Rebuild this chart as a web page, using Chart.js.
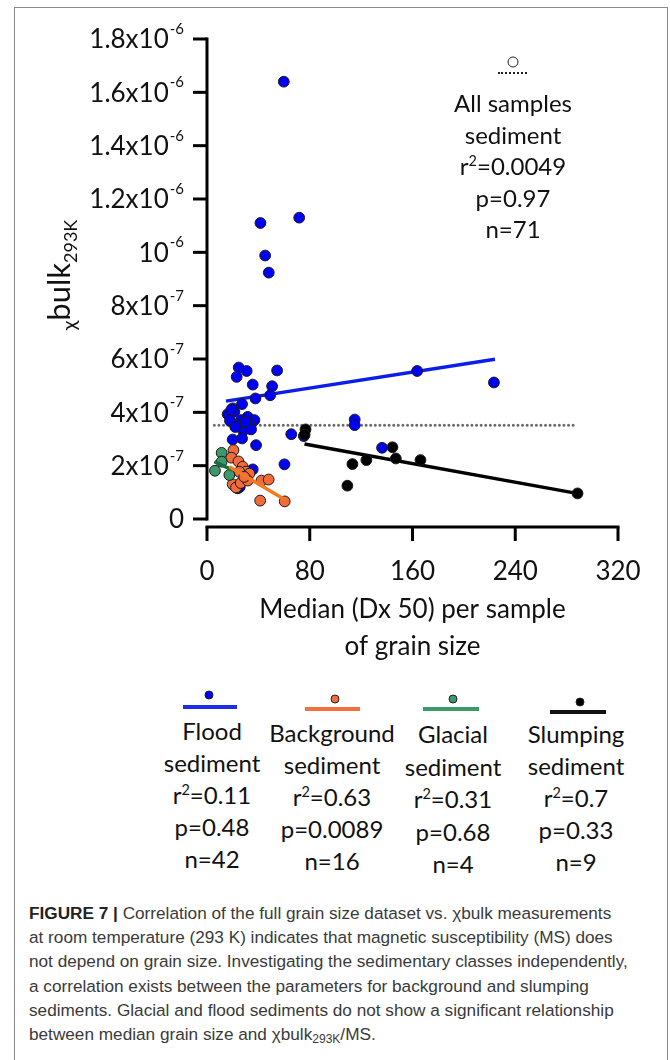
<!DOCTYPE html>
<html>
<head>
<meta charset="utf-8">
<script src="https://cdn.jsdelivr.net/npm/chart.js@4.4.1/dist/chart.umd.min.js"></script>
<style>
    body { margin: 0; background: #fff; width: 670px; height: 1060px; overflow: hidden; position: relative; font-family: Lato, "Open Sans", sans-serif; color: #111; }
    #moldura { position: absolute; left: 14px; top: 7px; width: 654px; height: 1070px; border: 1px solid #8a8a8a; box-sizing: border-box; }
    #grafico { position: absolute; left: 0; top: 0; }
    .leg { position: absolute; text-align: center; font-size: 24px; white-space: nowrap; transform: translateX(-50%); }
    .sup { font-size: 0.6em; position: relative; top: -0.6em; line-height: 0; }
    .ponto { position: absolute; width: 9px; height: 9px; border-radius: 50%; border: 1px solid #222; box-sizing: border-box; transform: translate(-50%, -50%); }
    .traco { position: absolute; height: 4px; transform: translateY(-50%); }
    #pontilhado { position: absolute; left: 498px; top: 72px; width: 29px; border-top: 2px dotted #222; }
    #legenda-fig { position: absolute; left: 29px; top: 901px; font-family: "Liberation Sans", Arial, sans-serif; font-size: 17.2px; line-height: 24.2px; color: #3a3a3a; white-space: nowrap; }
    #legenda-fig b { color: #222; }
    #legenda-fig sub { font-size: 0.7em; vertical-align: -0.25em; line-height: 0; }
</style>
</head>
<body>
<div id="moldura"></div>
<canvas id="grafico" width="670" height="680"></canvas>

<!-- Legenda superior (todas as amostras) -->
<div class="ponto" style="left:513px; top:62px; width:11px; height:11px; background:#fff;"></div>
<div id="pontilhado"></div>
<div class="leg" style="left:513px; top:87px; line-height:31.5px;">All samples<br>sediment<br>r<span class="sup">2</span>=0.0049<br>p=0.97<br>n=71</div>

<!-- Legenda inferior (classes) -->
<div class="ponto" style="left:209px; top:695px; background:#0000f5;"></div>
<div class="traco" style="left:183px; top:707px; width:54px; background:#1b2ee8;"></div>
<div class="leg" style="left:212px; top:715px; line-height:32px;">Flood<br>sediment<br>r<span class="sup">2</span>=0.11<br>p=0.48<br>n=42</div>

<div class="ponto" style="left:335px; top:699px; background:#f26c3b;"></div>
<div class="traco" style="left:305px; top:709px; width:55px; background:#f4703a;"></div>
<div class="leg" style="left:332px; top:717px; line-height:32px;">Background<br>sediment<br>r<span class="sup">2</span>=0.63<br>p=0.0089<br>n=16</div>

<div class="ponto" style="left:453px; top:699px; background:#3a9a6b;"></div>
<div class="traco" style="left:423px; top:709px; width:56px; background:#3a9a6b;"></div>
<div class="leg" style="left:453px; top:718px; line-height:32.5px;">Glacial<br>sediment<br>r<span class="sup">2</span>=0.31<br>p=0.68<br>n=4</div>

<div class="ponto" style="left:580px; top:702px; background:#000;"></div>
<div class="traco" style="left:550px; top:712px; width:56px; background:#111;"></div>
<div class="leg" style="left:576px; top:718px; line-height:32px;">Slumping<br>sediment<br>r<span class="sup">2</span>=0.7<br>p=0.33<br>n=9</div>

<div id="legenda-fig"><b>FIGURE 7 |</b> Correlation of the full grain size dataset vs. χbulk measurements<br>at room temperature (293 K) indicates that magnetic susceptibility (MS) does<br>not depend on grain size. Investigating the sedimentary classes independently,<br>a correlation exists between the parameters for background and slumping<br>sediments. Glacial and flood sediments do not show a significant relationship<br>between median grain size and χbulk<sub>293K</sub>/MS.</div>

<script>
// Valores de y em unidades de 10^-7
const Y_UNIT = 1e-7;

// Flood sediment (azul)
const floodX = [59.8, 41.6, 71.8, 45.3, 48.1, 24.7, 30.9, 23.1, 54.6, 35.6, 50.7, 37.7, 49.2, 27.3, 20.0, 16.1, 21.3, 17.9, 26.5, 31.7, 36.9, 25.2, 33.0, 28.3, 34.3, 20.0, 27.3, 38.2, 65.6, 75.4, 115.0, 115.0, 136.3, 60.3, 35.6, 23.9, 163.6, 223.4, 22.0, 30.0, 19.0, 25.5];
const floodY = [16.4, 11.1, 11.3, 9.88, 9.24, 5.68, 5.55, 5.33, 5.57, 5.04, 4.98, 4.52, 4.64, 4.31, 4.15, 3.93, 4.02, 3.68, 3.71, 3.83, 3.71, 3.52, 3.58, 3.31, 3.36, 2.98, 3.02, 2.77, 3.18, 3.11, 3.73, 3.52, 2.67, 2.05, 1.86, 1.15, 5.55, 5.12, 3.45, 3.65, 4.10, 1.20];

// Background sediment (laranja)
const backgroundX = [20.6, 19.0, 24.5, 27.8, 30.4, 33.0, 25.2, 20.0, 22.6, 26.2, 31.7, 42.4, 48.0, 41.4, 60.5, 29.0];
const backgroundY = [2.58, 2.30, 2.16, 1.96, 1.78, 1.70, 1.77, 1.30, 1.18, 1.35, 1.44, 1.44, 1.48, 0.69, 0.66, 1.58];

// Glacial sediment (verde)
const glacialX = [11.4, 11.4, 6.2, 17.4];
const glacialY = [2.48, 2.15, 1.81, 1.65];

// Slumping sediment (preto)
const slumpingX = [76.7, 76.0, 113.2, 124.1, 109.3, 144.4, 147.0, 166.2, 288.5];
const slumpingY = [3.36, 3.16, 2.06, 2.21, 1.25, 2.69, 2.27, 2.21, 0.96];

// Retas de regressão: [x inicial, x final] e [y inicial, y final]
const floodFitX = [14.8, 224.2];
const floodFitY = [4.42, 5.99];
const backgroundFitX = [17.5, 61.1];
const backgroundFitY = [1.96, 0.71];
const glacialFitX = [5.7, 20.0];
const glacialFitY = [2.15, 1.83];
const slumpingFitX = [75.9, 288.0];
const slumpingFitY = [2.81, 0.96];
const allFitX = [5.7, 285.3];
const allFitY = [3.52, 3.52];

// Rótulos dos eixos
const yTickValues = [0, 2, 4, 6, 8, 10, 12, 14, 16, 18];
const yTickMantissa = ['0', '2x10', '4x10', '6x10', '8x10', '10', '1.2x10', '1.4x10', '1.6x10', '1.8x10'];
const yTickExp = [null, '-7', '-7', '-7', '-7', '-6', '-6', '-6', '-6', '-6'];
const xTickValues = [0, 80, 160, 240, 320];
const xTitleLines = ['Median (Dx 50) per sample', 'of grain size'];

const FONTE = 'Lato, "Open Sans", sans-serif';

function pontos(xs, ys) {
    return xs.map((x, i) => ({ x: x, y: ys[i] * Y_UNIT }));
}

function serieDePontos(xs, ys, cor, ordem) {
    return {
        type: 'scatter',
        data: pontos(xs, ys),
        backgroundColor: cor,
        borderColor: '#1a1a1a',
        pointRadius: 5.4,
        pointBorderWidth: 1,
        order: ordem,
        clip: false
    };
}

function reta(xs, ys, cor, largura, extra) {
    return Object.assign({
        type: 'line',
        data: pontos(xs, ys),
        borderColor: cor,
        borderWidth: largura,
        pointRadius: 0,
        fill: false,
        tension: 0,
        order: 10,
        clip: false
    }, extra || {});
}

// Desenha eixos destacados, rótulos e títulos
const eixosPlugin = {
    id: 'eixos',
    afterDraw(chart) {
        const ctx = chart.ctx;
        const xs = chart.scales.x;
        const ys = chart.scales.y;
        const x0 = xs.getPixelForValue(0);
        const yZero = ys.getPixelForValue(0);
        const yTopo = ys.getPixelForValue(yTickValues[yTickValues.length - 1] * Y_UNIT);
        const xAxisY = yZero + 8;

        ctx.save();
        ctx.strokeStyle = '#000';
        ctx.fillStyle = '#111';
        ctx.lineWidth = 3;
        ctx.lineCap = 'butt';

        // eixo y
        ctx.beginPath();
        ctx.moveTo(x0, yTopo - 1.5);
        ctx.lineTo(x0, yZero + 1.5);
        ctx.stroke();
        yTickValues.forEach((v, i) => {
            const y = ys.getPixelForValue(v * Y_UNIT);
            ctx.beginPath();
            ctx.moveTo(x0 - 14, y);
            ctx.lineTo(x0, y);
            ctx.stroke();

            const xr = x0 - 23;
            ctx.textBaseline = 'middle';
            let wE = 0;
            if (yTickExp[i]) {
                ctx.font = '15px ' + FONTE;
                wE = ctx.measureText(yTickExp[i]).width;
                ctx.textAlign = 'left';
                ctx.fillText(yTickExp[i], xr - wE, y - 10);
            }
            ctx.font = '26px ' + FONTE;
            ctx.textAlign = 'right';
            ctx.fillText(yTickMantissa[i], xr - wE - (wE ? 1 : 0), y + 1);
        });

        // eixo x (deslocado para baixo)
        const xFim = xs.getPixelForValue(xTickValues[xTickValues.length - 1]);
        ctx.beginPath();
        ctx.moveTo(x0 - 1.5, xAxisY);
        ctx.lineTo(xFim + 1.5, xAxisY);
        ctx.stroke();
        ctx.font = '26px ' + FONTE;
        ctx.textAlign = 'center';
        ctx.textBaseline = 'middle';
        xTickValues.forEach(v => {
            const x = xs.getPixelForValue(v);
            ctx.beginPath();
            ctx.moveTo(x, xAxisY);
            ctx.lineTo(x, xAxisY + 14);
            ctx.stroke();
            ctx.fillText(String(v), x, xAxisY + 45);
        });

        // título do eixo x
        const xMeio = (x0 + xFim) / 2;
        ctx.font = '26px ' + FONTE;
        ctx.fillText(xTitleLines[0], xMeio, xAxisY + 83);
        ctx.fillText(xTitleLines[1], xMeio, xAxisY + 120);

        // título do eixo y: χbulk com subscrito 293K, girado
        const partes = [
            { t: 'χ', size: 20, dy: 6 },
            { t: 'bulk', size: 31, dy: 0 },
            { t: '293K', size: 18, dy: 7 }
        ];
        let total = 0;
        partes.forEach(p => {
            ctx.font = p.size + 'px ' + FONTE;
            p.w = ctx.measureText(p.t).width;
            total += p.w;
        });
        const centroY = (yTopo + yZero) / 2 - 4;
        ctx.translate(70, 0);
        ctx.rotate(-Math.PI / 2);
        ctx.textAlign = 'left';
        ctx.textBaseline = 'alphabetic';
        let lx = -(centroY + total / 2);
        partes.forEach(p => {
            ctx.font = p.size + 'px ' + FONTE;
            ctx.fillText(p.t, lx, p.dy);
            lx += p.w;
        });
        ctx.restore();
    }
};

function inicializarGrafico() {
    const ctx = document.getElementById('grafico').getContext('2d');

    new Chart(ctx, {
        type: 'scatter',
        data: {
            datasets: [
                reta(allFitX, allFitY, '#6b6b6b', 3, { borderDash: [0, 4.6], borderCapStyle: 'round', order: 11 }),
                reta(floodFitX, floodFitY, '#0a1ee8', 3.5),
                reta(slumpingFitX, slumpingFitY, '#000', 3.5),
                serieDePontos(floodX, floodY, '#0000f5', 4),
                serieDePontos(slumpingX, slumpingY, '#000', 3),
                serieDePontos(backgroundX, backgroundY, '#f26c3b', 2),
                serieDePontos(glacialX, glacialY, '#3a9a6b', 1),
                reta(backgroundFitX, backgroundFitY, '#f47a20', 3.5, { order: 0 }),
                reta(glacialFitX, glacialFitY, '#1d6b40', 3.5, { order: 0 })
            ]
        },
        options: {
            responsive: false,
            animation: false,
            devicePixelRatio: 1,
            layout: { padding: { left: 207, right: 52, top: 39, bottom: 161 } },
            scales: {
                x: { type: 'linear', min: 0, max: 320, display: false },
                y: { type: 'linear', min: 0, max: 18 * Y_UNIT, display: false }
            },
            plugins: {
                legend: { display: false },
                tooltip: { enabled: false }
            }
        },
        plugins: [eixosPlugin]
    });
}

document.addEventListener('DOMContentLoaded', inicializarGrafico);
</script>
</body>
</html>
